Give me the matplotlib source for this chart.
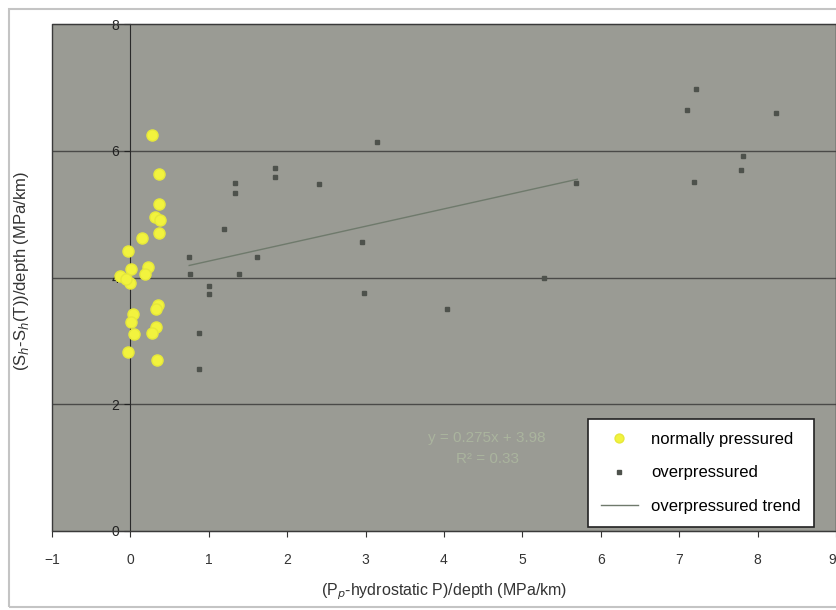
import matplotlib
matplotlib.use('Agg')
import matplotlib.pyplot as plt
from matplotlib.patches import Rectangle

plt.rcParams['font.family'] = ['Liberation Sans', 'DejaVu Sans']

# normally pressured points
norm_x = [0.28, 0.37, 0.37, 0.31, 0.38, 0.37, 0.15, -0.03, 0.01, 0.22, 0.18, -0.13,
          -0.01, -0.05, 0.35, 0.33, 0.03, 0.01, 0.05, 0.33, 0.28, -0.03, 0.34]
norm_y = [6.25, 5.63, 5.16, 4.96, 4.90, 4.70, 4.63, 4.42, 4.13, 4.17, 4.06, 4.03,
          3.92, 3.97, 3.56, 3.51, 3.42, 3.30, 3.11, 3.22, 3.13, 2.83, 2.70]

# overpressured points
over_x = [0.75, 0.76, 1.00, 1.00, 1.33, 1.33, 1.20, 1.38, 1.61, 1.85, 1.85, 2.41, 3.15,
          2.95, 2.98, 0.87, 0.87, 4.04, 5.27, 5.68, 7.22, 7.10, 8.23, 7.81, 7.79, 7.19]
over_y = [4.32, 4.06, 3.86, 3.74, 5.49, 5.33, 4.77, 4.06, 4.32, 5.72, 5.59, 5.48, 6.14,
          4.56, 3.76, 3.13, 2.55, 3.50, 4.00, 5.49, 6.98, 6.64, 6.59, 5.91, 5.69, 5.51]

# trend line
trend_x = [0.75, 5.70]
trend_y = [4.19, 5.55]

xticks = [-1, 0, 1, 2, 3, 4, 5, 6, 7, 8, 9]
yticks = [0, 2, 4, 6, 8]

fig = plt.figure(figsize=(8.36, 6.10), dpi=100)
fig.patches.append(Rectangle((9/836, 3/610), 1.2, 598/610, transform=fig.transFigure,
                             fill=False, ec='#c4c4c4', lw=1.5))

ax = fig.add_axes([52/836, 79/610, 784/836, 507/610])
ax.set_facecolor('#9a9b94')
ax.set_xlim(-1, 9)
ax.set_ylim(0, 8)

for y in [2, 4, 6]:
    ax.axhline(y, color='#4a4a48', lw=1, zorder=1)

ax.plot(trend_x, trend_y, color='#6f7a6c', lw=1, zorder=2, label='overpressured trend')
ax.plot(norm_x, norm_y, 'o', color='#f2f33e', ms=8, mec='#e6e83a', zorder=4,
        label='normally pressured')
ax.plot(over_x, over_y, 's', color='#4e524c', ms=3.5, zorder=3, label='overpressured')

ax.text(4.55, 1.3, 'y = 0.275x + 3.98\nR² = 0.33', color='#aab49e', fontsize=11,
        ha='center', va='center', linespacing=1.6)

for s in ['top', 'right', 'bottom']:
    ax.spines[s].set_color('#3a3a3a')
ax.spines['left'].set_position(('data', 0))
ax.spines['left'].set_color('#2a2a2a')
ax.add_patch(Rectangle((0, 0), 1, 1, transform=ax.transAxes, fill=False,
                       ec='#3a3a3a', lw=1, clip_on=False, zorder=5))

ax.set_xticks(xticks)
ax.set_yticks(yticks)
ax.tick_params(axis='x', length=4, pad=12, labelsize=10, colors='#333333')
ax.tick_params(axis='y', length=4, pad=4, labelsize=10, colors='#222222')
ax.get_xticklabels()[-1].set_horizontalalignment('right')

ax.set_xlabel('(P$_p$-hydrostatic P)/depth (MPa/km)', fontsize=11.5, color='#333333',
              labelpad=10)
fig.text(22/836, 0.555, '(S$_h$-S$_h$(T))/depth (MPa/km)', rotation=90, fontsize=12,
         color='#333333', ha='center', va='center')

h, l = ax.get_legend_handles_labels()
order = [1, 2, 0]
leg = ax.legend([h[i] for i in order], [l[i] for i in order],
                loc='lower right', bbox_to_anchor=(762/784, 4/507), borderaxespad=0,
                fontsize=12, frameon=True, fancybox=False, edgecolor='#222222',
                framealpha=1, borderpad=0.8, labelspacing=1.1, handlelength=2.2,
                markerscale=0.8)
leg.get_frame().set_linewidth(1.2)

fig.savefig('out.png', dpi=100)
